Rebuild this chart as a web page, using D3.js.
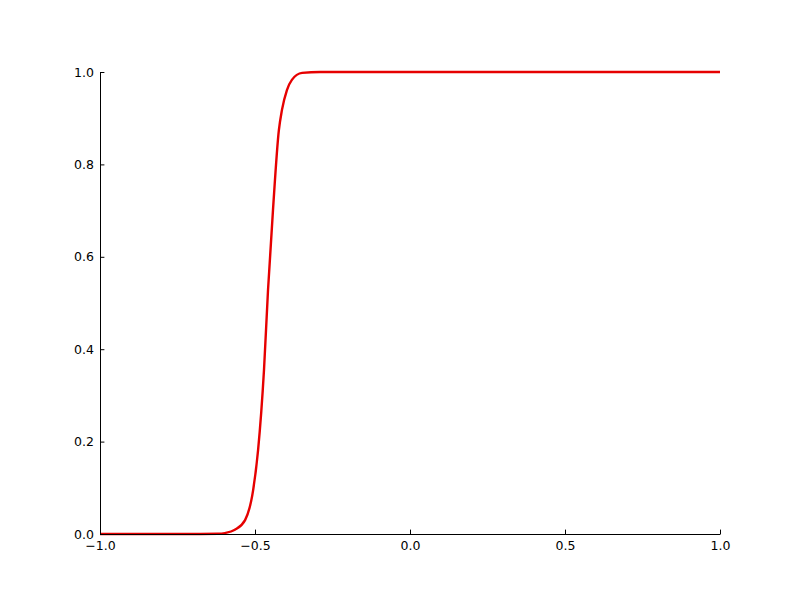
<!DOCTYPE html>
<html>
<head>
<meta charset="utf-8">
<script src="https://cdn.jsdelivr.net/npm/d3@7"></script>
<style>
  body { margin: 0; background: #fff; }
  svg { display: block; }
  .tick text { font-family: "DejaVu Sans", sans-serif; font-size: 12.5px; fill: #000; }
</style>
</head>
<body>
<svg id="chart" width="800" height="600"></svg>
<script>
// points (x, y)
var curveX = [-1.0, -0.70, -0.62, -0.597, -0.565, -0.532, -0.506, -0.490, -0.471, -0.458, -0.442, -0.423, -0.413, -0.397, -0.381, -0.348, -0.290, 0.0, 0.5, 1.0];
var curveY = [0.0, 0.0, 0.0005, 0.002, 0.009, 0.030, 0.095, 0.182, 0.355, 0.528, 0.701, 0.874, 0.918, 0.961, 0.983, 0.998, 1.0, 1.0, 1.0, 1.0];
var xTicks = [-1.0, -0.5, 0.0, 0.5, 1.0];
var yTicks = [0.0, 0.2, 0.4, 0.6, 0.8, 1.0];

var svg = d3.select("#chart"),
  width = +svg.attr("width"),
  height = +svg.attr("height"),
  margin = {left: 100, right: 80, top: 72, bottom: 66};

var x = d3.scaleLinear().domain([-1, 1]).range([margin.left, width - margin.right]),
  y = d3.scaleLinear().domain([0, 1]).range([height - margin.bottom, margin.top]);

var fmt = function(d){ return d3.format(".1f")(d).replace("-", "\u2212"); };

var pts = curveX.map(function(d, i){ return [d, curveY[i]]; });

svg.append("path")
  .datum(pts)
  .attr("fill", "none")
  .attr("stroke", "#e60000")
  .attr("stroke-width", 2.4)
  .attr("stroke-linejoin", "round")
  .attr("d", d3.line()
    .x(function(d){ return x(d[0]); })
    .y(function(d){ return y(d[1]); })
    .curve(d3.curveMonotoneX));

var xAxis = svg.append("g")
  .attr("transform", "translate(0," + y(0) + ")")
  .call(d3.axisBottom(x).tickValues(xTicks).tickFormat(fmt).tickSizeInner(-4.4).tickSizeOuter(0).tickPadding(7));

var yAxis = svg.append("g")
  .attr("transform", "translate(" + x(-1) + ",0)")
  .call(d3.axisLeft(y).tickValues(yTicks).tickFormat(fmt).tickSizeInner(-4.4).tickSizeOuter(0).tickPadding(6));

[xAxis, yAxis].forEach(function(a){
  a.select(".domain").attr("stroke", "#000").attr("stroke-width", 1);
  a.selectAll(".tick line").attr("stroke", "#000").attr("stroke-width", 1);
});
xAxis.selectAll(".tick text").attr("dy", "0.71em");
</script>
</body>
</html>
